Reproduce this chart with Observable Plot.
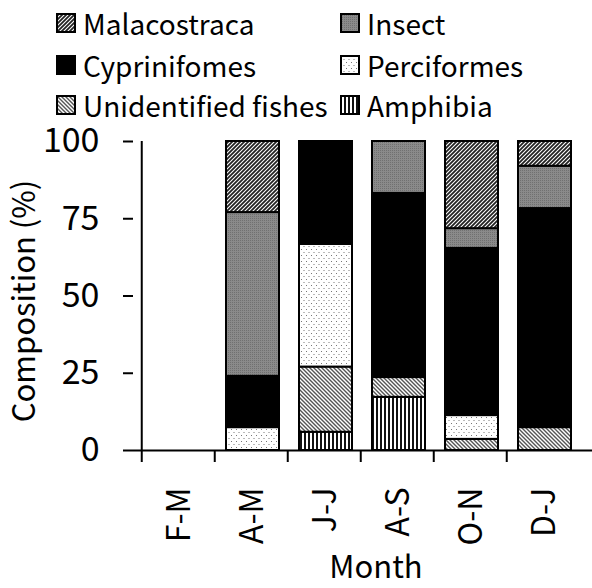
<!DOCTYPE html>
<html>
<head>
<meta charset="utf-8">
<script src="https://cdn.jsdelivr.net/npm/d3@7"></script>
<script src="https://cdn.jsdelivr.net/npm/@observablehq/plot@0.6"></script>
<style>
  html, body { margin: 0; padding: 0; background: #fff; }
  body { width: 592px; height: 588px; overflow: hidden; font-family: "Noto Sans CJK KR", sans-serif; }
  #legend { position: relative; width: 592px; height: 110px; z-index: 1; }
  .item { position: absolute; height: 40px; font-size: 28px; line-height: 40px; color: #000; white-space: nowrap; }
  .item svg { position: absolute; left: 0; top: 10px; }
  .item span { position: absolute; left: 27px; top: 0; }
</style>
</head>
<body>
<svg width="0" height="0" style="position:absolute">
  <defs>
    <pattern id="p-mala" width="4" height="4" patternUnits="userSpaceOnUse">
      <rect width="4" height="4" fill="#fff"/>
      <path d="M-1,1 l2,-2 M0,4 l4,-4 M3,5 l2,-2" stroke="#222" stroke-width="1.8"/>
    </pattern>
    <pattern id="p-insect" width="2" height="2" patternUnits="userSpaceOnUse">
      <rect width="2" height="2" fill="#8a8a8a"/>
      <rect width="1" height="1" fill="#707070"/>
    </pattern>
    <pattern id="p-perc" width="5" height="6" patternUnits="userSpaceOnUse">
      <rect width="5" height="6" fill="#fff"/>
      <rect x="1" y="1" width="1" height="1" fill="#777"/>
      <rect x="3.5" y="4" width="1" height="1" fill="#777"/>
    </pattern>
    <pattern id="p-unid" width="4" height="4" patternUnits="userSpaceOnUse">
      <rect width="4" height="4" fill="#fff"/>
      <path d="M-1,3 l2,2 M0,0 l4,4 M3,-1 l2,2" stroke="#555" stroke-width="1.4"/>
    </pattern>
    <pattern id="p-amph" width="4" height="4" patternUnits="userSpaceOnUse">
      <rect width="4" height="4" fill="#fff"/>
      <rect x="0" y="0" width="2" height="4" fill="#111"/>
    </pattern>
  </defs>
</svg>
<div id="legend"></div>
<div id="chart"></div>
<script>
// Data (bottom-to-top stacking order)
const months = ["F-M", "A-M", "J-J", "A-S", "O-N", "D-J"];
const groups = ["Amphibia", "Unidentified fishes", "Perciformes", "Cyprinifomes", "Insect", "Malacostraca"];
const amphibia     = [0, 0,    5.9, 17.2, 0,    0];
const unidentified = [0, 0,   21.1,  6.4, 3.6,  7.4];
const perciformes  = [0, 7.4, 39.7,  0,   7.7,  0];
const cyprinifomes = [0, 16.6, 33.3, 59.6, 54.1, 70.9];
const insect       = [0, 53.0, 0,   16.8, 6.4, 13.7];
const malacostraca = [0, 23.0, 0,    0,   28.2,  8.0];
const yTicks = [0, 25, 50, 75, 100];
const legendOrder = ["Malacostraca", "Insect", "Cyprinifomes", "Perciformes", "Unidentified fishes", "Amphibia"];

const fills = {
  "Amphibia": "url(#p-amph)",
  "Unidentified fishes": "url(#p-unid)",
  "Perciformes": "url(#p-perc)",
  "Cyprinifomes": "#000",
  "Insect": "url(#p-insect)",
  "Malacostraca": "url(#p-mala)"
};

const series = [amphibia, unidentified, perciformes, cyprinifomes, insect, malacostraca];
const data = [];
groups.forEach((g, gi) => {
  months.forEach((m, mi) => {
    data.push({month: m, group: g, value: series[gi][mi]});
  });
});

// Legend
const legend = document.getElementById("legend");
const pos = [[56, 23], [340, 23], [56, 65], [340, 65], [56, 105], [340, 105]];
legendOrder.forEach((g, i) => {
  const div = document.createElement("div");
  div.className = "item";
  div.style.left = pos[i][0] + "px";
  div.style.top = (pos[i][1] - 20) + "px";
  div.innerHTML = `<svg width="20" height="20"><rect x="1" y="1" width="18" height="18" fill="${fills[g]}" stroke="#000" stroke-width="2"/></svg><span>${g}</span>`;
  legend.appendChild(div);
});

const step = (592 - 133) / months.length;

const chart = Plot.plot({
  width: 592,
  height: 478,
  marginTop: 31,
  marginBottom: 138,
  marginLeft: 133,
  marginRight: 0,
  style: {fontFamily: "'Noto Sans CJK KR', sans-serif", color: "#000", background: "transparent"},
  x: {domain: months, padding: 0.27, label: null},
  y: {domain: [0, 100], label: null},
  color: {domain: groups, range: groups.map(g => fills[g])},
  marks: [
    Plot.barY(data, Plot.stackY({x: "month", y: "value", z: "group", fill: "group", order: groups, stroke: "#000", strokeWidth: 2})),
    Plot.ruleY([0], {stroke: "#000", strokeWidth: 2}),
    Plot.ruleX([months[0]], {y1: 0, y2: 100, dx: -step / 2, stroke: "#000", strokeWidth: 2}),
    Plot.axisY({ticks: yTicks, tickSize: 10, tickPadding: 24, fontSize: 34, label: null, strokeWidth: 2}),
    Plot.axisX({tickSize: 12, text: null, dx: -step / 2, strokeWidth: 2, label: null}),
    Plot.axisX({tickSize: 0, tickRotate: -90, tickPadding: 37, fontSize: 32, label: null}),
    Plot.text(["Composition (%)"], {frameAnchor: "left", textAnchor: "middle", lineAnchor: "middle", rotate: -90, dx: -108, dy: 5, fontSize: 31}),
    Plot.text(["Month"], {frameAnchor: "bottom", textAnchor: "middle", lineAnchor: "middle", dx: 13, dy: 118, fontSize: 31})
  ]
});
document.getElementById("chart").appendChild(chart);
</script>
</body>
</html>
